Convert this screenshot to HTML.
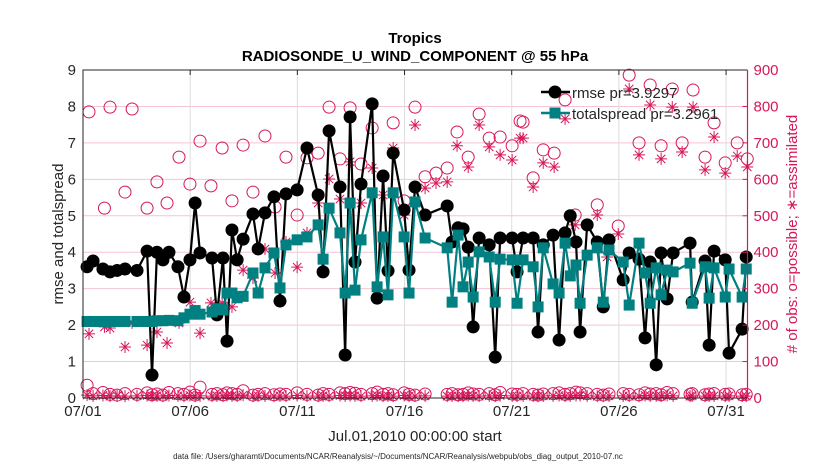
<!DOCTYPE html>
<html><head><meta charset="utf-8"><style>
body{margin:0;background:#fff;}
svg{display:block;font-family:"Liberation Sans",sans-serif;}
</style></head><body>
<svg id="chart" width="830" height="470" viewBox="0 0 830 470">
<g id="grid"></g>
<g id="obs"></g>
<g id="lines"></g>
<g id="axes"></g>
<text x="415" y="43" text-anchor="middle" font-size="15" font-weight="bold">Tropics</text>
<text x="415" y="61" text-anchor="middle" font-size="15" font-weight="bold">RADIOSONDE_U_WIND_COMPONENT @ 55 hPa</text>
<text x="415" y="441" text-anchor="middle" font-size="15" fill="#262626">Jul.01,2010 00:00:00 start</text>
<text x="398" y="459" text-anchor="middle" font-size="8" fill="#262626">data file: /Users/gharamti/Documents/NCAR/Reanalysis/~/Documents/NCAR/Reanalysis/webpub/obs_diag_output_2010-07.nc</text>
<text transform="translate(63,234) rotate(-90)" text-anchor="middle" font-size="15" fill="#262626">rmse and totalspread</text>
<text transform="translate(797,234) rotate(-90)" text-anchor="middle" font-size="15" fill="#d6175a"># of obs: o=possible; ∗=assimilated</text>
<g>
<g>
<line x1="541" y1="92" x2="570" y2="92" stroke="#000" stroke-width="2.5"/><circle cx="555" cy="92" r="6.5" fill="#000"/>
<text x="572" y="98" font-size="15" fill="#262626">rmse pr=3.9297</text></g>
<g>
<line x1="541" y1="113" x2="570" y2="113" stroke="#008080" stroke-width="2.5"/><rect x="549.5" y="107.5" width="11" height="11" fill="#008080"/>
<text x="572" y="119" font-size="15" fill="#262626">totalspread pr=3.2961</text></g>
</g>
</svg>
<script>
const days=[0.19,0.47,0.93,1.26,1.59,1.96,2.52,2.99,3.22,3.45,3.73,4.01,4.43,4.71,4.99,5.23,5.46,6.02,6.25,6.53,6.72,6.95,7.19,7.47,7.93,8.17,8.49,8.91,9.19,9.47,9.99,10.45,10.97,11.2,11.48,11.99,12.23,12.46,12.69,12.97,13.49,13.72,14.0,14.23,14.47,14.98,15.21,15.49,15.96,16.99,17.22,17.5,17.73,17.97,18.2,18.48,18.95,19.23,19.46,20.02,20.25,20.53,21.0,21.23,21.47,21.93,22.21,22.49,22.73,23.0,23.19,23.52,23.99,24.27,24.54,25.2,25.48,25.94,26.22,26.46,26.74,26.97,27.25,27.53,28.32,28.42,29.02,29.21,29.44,29.96,30.14,30.75,30.94];
const rmse=[3.6,3.76,3.54,3.46,3.5,3.54,3.5,4.03,0.63,4.0,3.79,4.0,3.6,2.77,3.79,5.35,3.98,3.84,2.28,3.84,1.56,4.61,3.79,4.36,5.05,4.09,5.08,5.52,2.66,5.6,5.71,6.86,5.57,3.46,7.33,5.79,1.18,7.71,3.73,5.87,8.07,2.74,6.09,3.49,6.72,5.16,3.51,5.79,5.02,5.27,4.28,4.67,4.64,4.14,1.95,4.39,4.2,1.12,4.39,4.39,3.46,4.39,4.39,1.81,4.2,4.47,1.59,4.53,5.0,4.28,1.81,4.75,4.28,2.5,4.34,3.24,3.98,3.81,1.65,3.73,0.91,3.98,2.72,3.98,4.25,2.63,3.76,1.45,4.03,3.79,1.23,1.89,3.87];
const spread=[2.1,2.1,2.1,2.1,2.1,2.1,2.1,2.1,2.1,2.12,2.12,2.13,2.12,2.2,2.3,2.4,2.3,2.36,2.45,2.42,2.88,2.88,2.75,2.79,3.43,2.88,3.57,3.98,3.02,4.2,4.34,4.42,4.75,3.81,5.21,4.53,2.88,5.35,2.96,4.34,5.63,3.05,4.42,2.83,5.63,4.42,2.88,5.38,4.39,4.12,2.63,4.47,3.05,3.73,2.77,4.01,3.87,2.63,3.81,3.79,2.6,3.79,3.6,2.5,4.12,3.13,2.88,4.25,3.35,3.65,2.6,3.92,4.12,2.63,4.06,3.73,2.55,4.25,3.43,2.6,3.57,2.83,3.51,3.46,3.7,2.6,3.6,2.74,3.57,2.77,3.54,2.77,3.54];
const lowPossible=[35,12,15,10,8,12,10,14,9,11,8,15,12,10,16,8,30,10,12,9,14,12,10,20,8,10,12,9,11,10,14,10,8,12,10,14,12,15,13,10,12,16,10,12,9,14,10,8,11,10,12,9,10,14,11,10,12,9,15,11,10,12,10,8,11,12,14,10,12,16,14,12,10,8,11,12,10,9,14,11,12,9,15,12,10,12,9,11,12,10,11,9,10];
const lowAssim=[8,6,7,5,6,5,6,7,5,6,5,7,6,5,7,5,6,5,6,5,7,6,5,8,5,6,6,5,6,5,7,5,5,6,5,7,6,7,6,5,6,7,5,6,5,7,5,5,6,5,6,5,5,7,6,5,6,5,7,6,5,6,5,5,6,6,7,5,6,7,7,6,5,5,6,6,5,5,7,6,6,5,7,6,5,6,5,6,6,5,6,5,5];
const possDays=[0.28,1.26,2.29,1.0,1.96,2.99,3.45,3.92,4.48,4.99,5.46,5.97,6.49,6.95,7.47,7.93,8.49,8.96,9.47,9.99,10.45,10.97,11.48,11.99,12.46,12.97,13.49,14.0,14.47,14.98,15.49,15.96,16.47,16.99,17.45,17.97,18.48,18.95,19.46,20.02,20.39,20.53,21.0,21.47,21.98,22.49,22.96,23.99,24.45,24.97,25.48,25.94,26.46,26.97,27.49,27.95,28.46,29.02,29.44,29.96,30.52,30.99];
const possible=[785,798,793,521,565,521,593,535,661,587,705,582,686,541,694,565,719,524,661,502,659,672,798,656,796,642,741,609,755,541,798,607,617,631,730,661,779,713,716,692,760,757,604,681,672,818,502,530,412,472,886,700,859,692,848,700,845,661,755,645,700,656];
const assimilated=[176,192,206,195,140,145,181,151,206,263,178,261,261,250,351,329,409,343,428,359,453,535,601,546,648,535,631,557,686,502,749,576,590,593,692,634,749,689,667,653,713,713,579,645,634,766,475,502,387,450,848,667,804,656,798,675,798,626,716,617,664,634];
const xTickDays=[0,5,10,15,20,25,30];
const xTickLabels=['07/01','07/06','07/11','07/16','07/21','07/26','07/31'];
const yTicks=[0,1,2,3,4,5,6,7,8,9];
const rTicks=[0,100,200,300,400,500,600,700,800,900];

const L=83,R=747.5,T=70,B=398,PINK='#d6175a',TEAL='#008080';
const xs=d=>L+d*(R-L)/31;
const yl=v=>B-v*(B-T)/9;
const yr=n=>B-n*(B-T)/900;
const NS='http://www.w3.org/2000/svg';
function mk(parent,tag,attrs){const e=document.createElementNS(NS,tag);for(const k in attrs)e.setAttribute(k,attrs[k]);parent.appendChild(e);return e;}
const grid=document.getElementById('grid'),axes=document.getElementById('axes'),obs=document.getElementById('obs'),lines=document.getElementById('lines');

rTicks.forEach(n=>{const g=mk(grid,'line',{x1:L,x2:R,y1:yr(n),y2:yr(n),stroke:'#f5c4d6','stroke-width':1});

});
xTickDays.forEach((d,i)=>{const g=mk(grid,'line',{x1:xs(d),x2:xs(d),y1:T,y2:B,stroke:'#dddddd','stroke-width':1});


const t=mk(axes,'text',{x:xs(d),y:B+18,'text-anchor':'middle','font-size':15,fill:'#262626'});t.textContent=xTickLabels[i];


mk(axes,'line',{x1:xs(d),x2:xs(d),y1:T,y2:T+5,stroke:'#262626'});});
yTicks.forEach(v=>{const t=mk(axes,'text',{x:L-7,y:yl(v)+5,'text-anchor':'end','font-size':15,fill:'#262626'});t.textContent=v;

});
rTicks.forEach(n=>{const t=mk(axes,'text',{x:R+6,y:yr(n)+5,'font-size':15,fill:PINK});t.textContent=n;


mk(axes,'line',{x1:R-5,x2:R,y1:yr(n),y2:yr(n),stroke:PINK});});
mk(axes,'path',{d:`M${L},${B}V${T}H${R}`,fill:'none',stroke:'#262626','stroke-width':1});
mk(axes,'line',{x1:L,x2:R,y1:B,y2:B,stroke:'#262626'});
mk(axes,'line',{x1:R,x2:R,y1:T,y2:B,stroke:PINK,'stroke-width':1.2});

function star(parent,x,y,s){const g=mk(parent,'path',{d:`M${x-s},${y}H${x+s}M${x},${y-s}V${y+s}M${x-s*.7},${y-s*.7}L${x+s*.7},${y+s*.7}M${x-s*.7},${y+s*.7}L${x+s*.7},${y-s*.7}`,stroke:PINK,'stroke-width':1,fill:'none'});return g;}
days.forEach((d,i)=>{const c=mk(obs,'circle',{cx:xs(d),cy:yr(lowPossible[i]),r:6,fill:'none',stroke:PINK,'stroke-width':1});


const s=star(obs,xs(d),yr(lowAssim[i]),6);

});
possDays.forEach((d,i)=>{const c=mk(obs,'circle',{cx:xs(d),cy:yr(possible[i]),r:6,fill:'none',stroke:PINK,'stroke-width':1});


const s=star(obs,xs(d),yr(assimilated[i]),6);

});

const rp=mk(lines,'polyline',{points:days.map((d,i)=>xs(d)+','+yl(rmse[i])).join(' '),fill:'none',stroke:'#000','stroke-width':2.2});


days.forEach((d,i)=>{const c=mk(lines,'circle',{cx:xs(d),cy:yl(rmse[i]),r:6.5,fill:'#000'});

});
const sp=mk(lines,'polyline',{points:days.map((d,i)=>xs(d)+','+yl(spread[i])).join(' '),fill:'none',stroke:TEAL,'stroke-width':2.2});


days.forEach((d,i)=>{const r=mk(lines,'rect',{x:xs(d)-5.5,y:yl(spread[i])-5.5,width:11,height:11,fill:TEAL});

});
</script>
</body></html>
